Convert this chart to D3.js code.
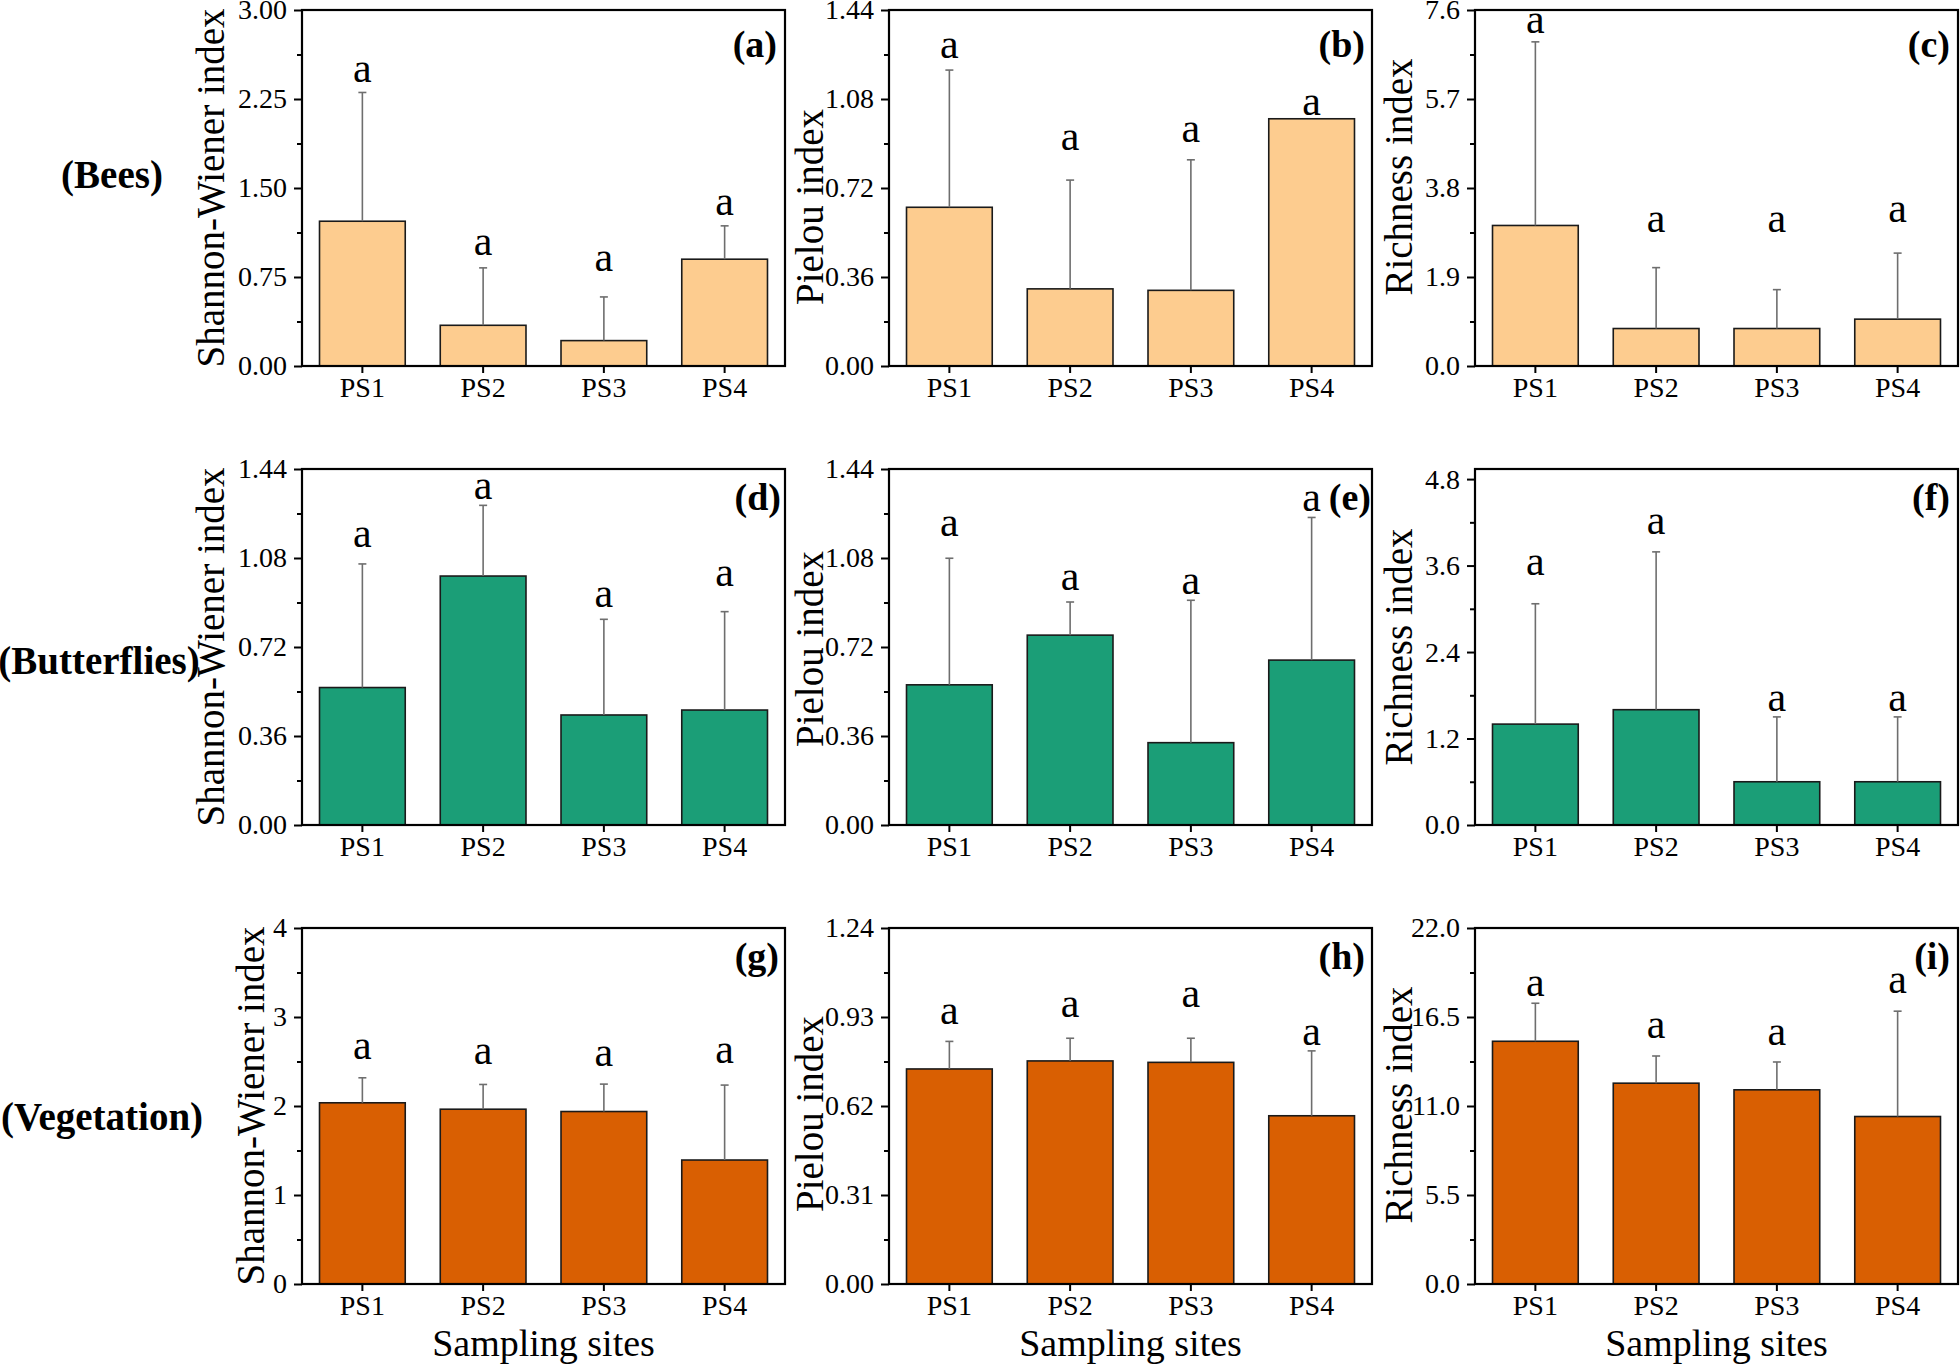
<!DOCTYPE html>
<html><head><meta charset="utf-8">
<script src="https://cdn.jsdelivr.net/npm/d3@7"></script>
<style>
body{margin:0;background:#fff}
text{font-family:"Liberation Serif","Times New Roman",serif;fill:#000}
</style>
</head><body>
<svg id="chart" width="1960" height="1364"></svg>
<script>
// ---------------- DATA ----------------
const sites = ["PS1", "PS2", "PS3", "PS4"];
const groups = ["(Bees)", "(Butterflies)", "(Vegetation)"];
const indexNames = ["Shannon-Wiener index", "Pielou index", "Richness index"];
const panelTags = ["(a)", "(b)", "(c)", "(d)", "(e)", "(f)", "(g)", "(h)", "(i)"];
const xTitle = "Sampling sites";
const letter = "a";

// means
const meanA = [1.22, 0.343, 0.214, 0.90];
const meanB = [0.642, 0.312, 0.306, 1.000];
const meanC = [3.00, 0.80, 0.80, 1.00];
const meanD = [0.556, 1.007, 0.445, 0.465];
const meanE = [0.567, 0.768, 0.333, 0.667];
const meanF = [1.40, 1.60, 0.60, 0.60];
const meanG = [2.036, 1.964, 1.938, 1.393];
const meanH = [0.749, 0.777, 0.772, 0.586];
const meanI = [15.00, 12.41, 12.00, 10.35];

// standard deviations (upper error bar)
const sdA = [1.085, 0.484, 0.368, 0.281];
const sdB = [0.555, 0.440, 0.528, 0.0];
const sdC = [3.92, 1.30, 0.83, 1.41];
const sdD = [0.500, 0.286, 0.387, 0.398];
const sdE = [0.512, 0.134, 0.576, 0.577];
const sdF = [1.67, 2.19, 0.90, 0.90];
const sdG = [0.281, 0.278, 0.308, 0.842];
const sdH = [0.096, 0.079, 0.084, 0.226];
const sdI = [2.35, 1.68, 1.72, 6.51];

// height (in data units) of the significance letters
const letterA = [2.39, 0.933, 0.80, 1.271];
const letterB = [1.244, 0.873, 0.907, 1.015];
const letterC = [7.10, 2.86, 2.86, 3.08];
const letterD = [1.124, 1.320, 0.883, 0.967];
const letterE = [1.168, 0.949, 0.936, 1.271];
const letterF = [3.468, 4.034, 1.578, 1.578];
const letterG = [2.53, 2.47, 2.445, 2.48];
const letterH = [0.906, 0.929, 0.964, 0.834];
const letterI = [17.77, 15.2, 14.79, 17.97];

// y tick labels
const ticksA = ["0.00", "0.75", "1.50", "2.25", "3.00"];
const ticksB = ["0.00", "0.36", "0.72", "1.08", "1.44"];
const ticksC = ["0.0", "1.9", "3.8", "5.7", "7.6"];
const ticksD = ["0.00", "0.36", "0.72", "1.08", "1.44"];
const ticksE = ["0.00", "0.36", "0.72", "1.08", "1.44"];
const ticksF = ["0.0", "1.2", "2.4", "3.6", "4.8"];
const ticksG = ["0", "1", "2", "3", "4"];
const ticksH = ["0.00", "0.31", "0.62", "0.93", "1.24"];
const ticksI = ["0.0", "5.5", "11.0", "16.5", "22.0"];

// y-axis upper limits
const yMaxes = [3.0, 1.44, 7.6, 1.44, 1.44, 4.94, 4.0, 1.24, 22.0];

// ---------------- STYLE / LAYOUT ----------------
const fills = ["#FDCC8F", "#1B9E77", "#D95F02"];
const colLeft = [302, 889, 1475];
const rowTop = [10, 469, 928];
const W = 483, H = 356;
const titleX = [[224, 823, 1412], [224, 823, 1412], [264, 823, 1412]];
const titleDy = [0, 19, -11, 0, 2, 0, 0, 8, -1];
const tagDy = [47, 41, 41];
const tagInset = [8, 7, 8, 4, 1, 8, 6, 7, 8];
const groupPos = [[112, 188], [99, 674], [102, 1130]];

const means = [meanA, meanB, meanC, meanD, meanE, meanF, meanG, meanH, meanI];
const sds = [sdA, sdB, sdC, sdD, sdE, sdF, sdG, sdH, sdI];
const letters = [letterA, letterB, letterC, letterD, letterE, letterF, letterG, letterH, letterI];
const tickLabels = [ticksA, ticksB, ticksC, ticksD, ticksE, ticksF, ticksG, ticksH, ticksI];

const svg = d3.select("#chart");

for (let k = 0; k < 9; k++) {
  const r = Math.floor(k / 3), c = k % 3;
  const g = svg.append("g").attr("transform", `translate(${colLeft[c]},${rowTop[r]})`);
  const x = d3.scaleBand().domain(sites).range([0, W]).padding(0);
  const y = d3.scaleLinear().domain([0, yMaxes[k]]).range([H, 0]);
  const bw = x.bandwidth() * 0.71;
  const labels = tickLabels[k];
  const tv = labels.map(Number);
  const minor = [];
  for (let i = 0; i < tv.length - 1; i++) minor.push((tv[i] + tv[i + 1]) / 2);

  const rows = sites.map((s, i) => ({s, m: means[k][i], sd: sds[k][i], l: letters[k][i]}));

  // bars
  g.selectAll("rect.bar").data(rows).join("rect")
    .attr("class", "bar")
    .attr("x", d => x(d.s) + (x.bandwidth() - bw) / 2)
    .attr("width", bw)
    .attr("y", d => y(d.m))
    .attr("height", d => H - y(d.m))
    .attr("fill", fills[r])
    .attr("stroke", "#1a1a1a")
    .attr("stroke-width", 1.6);

  // error bars
  const eb = rows.filter(d => d.sd > 0);
  g.selectAll("line.err").data(eb).join("line")
    .attr("class", "err")
    .attr("x1", d => x(d.s) + x.bandwidth() / 2)
    .attr("x2", d => x(d.s) + x.bandwidth() / 2)
    .attr("y1", d => y(d.m))
    .attr("y2", d => y(d.m + d.sd))
    .attr("stroke", "#6e6e6e").attr("stroke-width", 1.6);
  g.selectAll("line.cap").data(eb).join("line")
    .attr("class", "cap")
    .attr("x1", d => x(d.s) + x.bandwidth() / 2 - 4)
    .attr("x2", d => x(d.s) + x.bandwidth() / 2 + 4)
    .attr("y1", d => y(d.m + d.sd))
    .attr("y2", d => y(d.m + d.sd))
    .attr("stroke", "#6e6e6e").attr("stroke-width", 1.6);

  // letters
  g.selectAll("text.sig").data(rows).join("text")
    .attr("class", "sig")
    .attr("x", d => x(d.s) + x.bandwidth() / 2)
    .attr("y", d => y(d.l))
    .attr("text-anchor", "middle")
    .style("font-size", "42px")
    .text(letter);

  // axes
  const yAx = g.append("g").call(d3.axisLeft(y).tickValues(tv)
      .tickFormat((d, i) => labels[i]).tickSize(8).tickPadding(7));
  yAx.select(".domain").remove();
  yAx.selectAll("line").attr("stroke", "#000").attr("stroke-width", 2);
  yAx.selectAll("text").style("font-size", "28px").attr("fill", "#000");

  const yMin = g.append("g").call(d3.axisLeft(y).tickValues(minor).tickFormat("").tickSize(5));
  yMin.select(".domain").remove();
  yMin.selectAll("line").attr("stroke", "#000").attr("stroke-width", 2);

  const xAx = g.append("g").attr("transform", `translate(0,${H})`)
    .call(d3.axisBottom(x).tickSize(7).tickPadding(4));
  xAx.select(".domain").remove();
  xAx.selectAll("line").attr("stroke", "#000").attr("stroke-width", 2);
  xAx.selectAll("text").style("font-size", "28px").attr("fill", "#000");

  // frame
  g.append("rect").attr("x", 0).attr("y", 0).attr("width", W).attr("height", H)
    .attr("fill", "none").attr("stroke", "#000").attr("stroke-width", 2.2);

  // y title
  svg.append("text")
    .attr("transform", `translate(${titleX[r][c]},${rowTop[r] + H / 2 + titleDy[k]}) rotate(-90)`)
    .attr("text-anchor", "middle")
    .style("font-size", "39px")
    .text(indexNames[c]);

  // panel tag
  g.append("text").attr("x", W - tagInset[k]).attr("y", tagDy[r])
    .attr("text-anchor", "end")
    .style("font-size", "38px").style("font-weight", "bold")
    .text(panelTags[k]);

  // x title (bottom row)
  if (r === 2) {
    g.append("text").attr("x", W / 2).attr("y", H + 72)
      .attr("text-anchor", "middle").style("font-size", "38px").text(xTitle);
  }
}

// group labels
groups.forEach((t, i) => {
  svg.append("text").attr("x", groupPos[i][0]).attr("y", groupPos[i][1])
    .attr("text-anchor", "middle")
    .style("font-size", "39px").style("font-weight", "bold")
    .text(t);
});
</script>
</body></html>
